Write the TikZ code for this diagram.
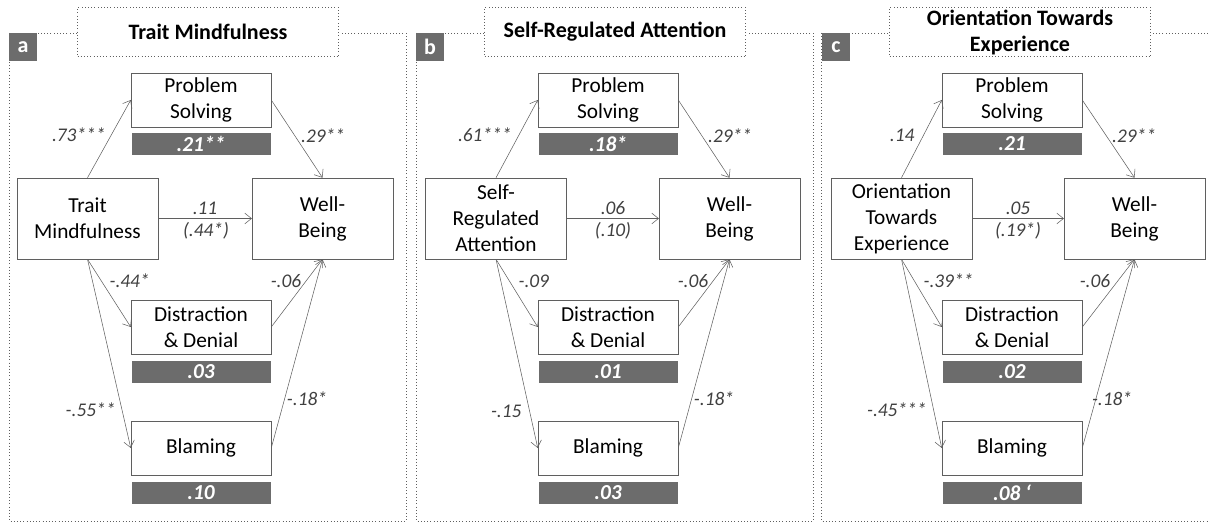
\documentclass[tikz,border=0pt]{standalone}
\usepackage{fontspec}
\setmainfont{Carlito}
\usepackage{xcolor}
\usetikzlibrary{arrows.meta}
\definecolor{linegrey}{RGB}{95,95,95}
\definecolor{bargrey}{RGB}{108,108,108}
\definecolor{coefgrey}{RGB}{64,64,64}
\newcommand{\boxfont}{\fontsize{16}{19.5}\selectfont}
\newcommand{\titlefont}{\fontsize{16.5}{19.5}\selectfont\bfseries}
\newcommand{\coeffont}{\fontsize{14.5}{17}\selectfont\itshape}
\newcommand{\barfont}{\fontsize{16}{17}\selectfont\bfseries\itshape}
\tikzset{
    box/.style={draw=linegrey, fill=white, align=center, font=\boxfont, inner sep=0pt, minimum width=105pt, minimum height=40.5pt},
    bigbox/.style={box, minimum width=105.5pt, minimum height=60.75pt},
    bar/.style={fill=bargrey, text=white, font=\barfont, inner sep=0pt, minimum width=104.25pt, minimum height=16.5pt},
    coef/.style={text=coefgrey, font=\coeffont, inner sep=1pt},
    titlebox/.style={draw=linegrey, dotted, fill=white, align=center, font=\titlefont, inner sep=0pt, minimum width=195.75pt, minimum height=36.75pt},
    tab/.style={fill=bargrey, text=white, font=\titlefont, inner sep=0pt, minimum width=21pt, minimum height=21pt},
    frame/.style={draw=linegrey, dotted},
    path/.style={draw=linegrey, -{Straight Barb[length=5pt,width=8pt]}}
}

\begin{document}
\begin{tikzpicture}[x=0.75pt, y=-0.75pt]
    \useasboundingbox (0,0) rectangle (1210,524);
    \clip (0,0) rectangle (1210,524);

    % panel a
    \begin{scope}[shift={(0,0)}]
        \draw[frame] (9,33) rectangle (406,521);
        \node[titlebox] (aT) at (208,32) {Trait Mindfulness};
        \node[tab] (aL) at (23,47) {a};
        \node[box] (aPS) at (201,100) {Problem\\Solving};
        \node[bar] (aR1) at (201,144) {.21**};
        \node[bigbox] (aX) at (87.5,218.5) {Trait\\Mindfulness};
        \node[bigbox] (aWB) at (322.5,218.5) {Well-\\Being};
        \node[box] (aDD) at (201,327) {Distraction\\\& Denial};
        \node[bar] (aR2) at (201,371.5) {.03};
        \node[box] (aBL) at (201,448) {Blaming};
        \node[bar] (aR3) at (201,492.5) {.10};

        \draw[path] (aX.north) -- (aPS.west);
        \draw[path] (aPS.east) -- (aWB.north);
        \draw[path] (aX.east) -- (aWB.west);
        \draw[path] (aX.south) -- (aDD.west);
        \draw[path] (aDD.east) -- (aWB.south);
        \draw[path] (aX.south) -- (aBL.west);
        \draw[path] (aBL.east) -- (aWB.south);

        \node[coef, anchor=east] (aC1) at (107,135) {.73***};
        \node[coef] (aC2) at (323,136) {.29**};
        \node[coef] (aC3) at (205,208) {.11};
        \node[coef] (aC4) at (206,231) {(.44*)};
        \node[coef, anchor=west] (aC5) at (108,281) {-.44*};
        \node[coef] (aC6) at (286,281) {-.06};
        \node[coef, anchor=east] (aC7) at (117,410) {-.55**};
        \node[coef] (aC8) at (307,399) {-.18*};
    \end{scope}

    % panel b
    \begin{scope}[shift={(407,0)}]
        \draw[frame] (9,33) rectangle (406,521);
        \node[titlebox] (bT) at (208,32) {Self-Regulated Attention};
        \node[tab] (bL) at (23,47) {b};
        \node[box] (bPS) at (201,100) {Problem\\Solving};
        \node[bar] (bR1) at (201,144) {.18*};
        \node[bigbox] (bX) at (89,218.5) {Self-\\Regulated\\Attention};
        \node[bigbox] (bWB) at (322.5,218.5) {Well-\\Being};
        \node[box] (bDD) at (201,327) {Distraction\\\& Denial};
        \node[bar] (bR2) at (201,371.5) {.01};
        \node[box] (bBL) at (201,448) {Blaming};
        \node[bar] (bR3) at (201,492.5) {.03};

        \draw[path] (bX.north) -- (bPS.west);
        \draw[path] (bPS.east) -- (bWB.north);
        \draw[path] (bX.east) -- (bWB.west);
        \draw[path] (bX.south) -- (bDD.west);
        \draw[path] (bDD.east) -- (bWB.south);
        \draw[path] (bX.south) -- (bBL.west);
        \draw[path] (bBL.east) -- (bWB.south);

        \node[coef, anchor=east] (bC1) at (106,135) {.61***};
        \node[coef] (bC2) at (323,136) {.29**};
        \node[coef] (bC3) at (206,208) {.06};
        \node[coef] (bC4) at (206,231) {(.10)};
        \node[coef, anchor=west] (bC5) at (110,281) {-.09};
        \node[coef] (bC6) at (286,281) {-.06};
        \node[coef, anchor=east] (bC7) at (116,411) {-.15};
        \node[coef] (bC8) at (307,399) {-.18*};
    \end{scope}

    % panel c
    \begin{scope}[shift={(812,0)}]
        \draw[frame] (9,33) rectangle (420,521);
        \node[titlebox] (cT) at (208,32) {Orientation Towards\\Experience};
        \node[tab] (cL) at (24,47) {c};
        \node[box] (cPS) at (200,100) {Problem\\Solving};
        \node[bar] (cR1) at (200,144) {.21};
        \node[bigbox] (cX) at (89.5,218.5) {Orientation\\Towards\\Experience};
        \node[bigbox] (cWB) at (322.5,218.5) {Well-\\Being};
        \node[box] (cDD) at (200,327) {Distraction\\\& Denial};
        \node[bar] (cR2) at (200,371.5) {.02};
        \node[box] (cBL) at (200,448) {Blaming};
        \node[bar] (cR3) at (200,492.5) {.08 ‘};

        \draw[path] (cX.north) -- (cPS.west);
        \draw[path] (cPS.east) -- (cWB.north);
        \draw[path] (cX.east) -- (cWB.west);
        \draw[path] (cX.south) -- (cDD.west);
        \draw[path] (cDD.east) -- (cWB.south);
        \draw[path] (cX.south) -- (cBL.west);
        \draw[path] (cBL.east) -- (cWB.south);

        \node[coef, anchor=east] (cC1) at (104,135) {.14};
        \node[coef] (cC2) at (322,136) {.29**};
        \node[coef] (cC3) at (206,208) {.05};
        \node[coef] (cC4) at (206,231) {(.19*)};
        \node[coef, anchor=west] (cC5) at (110,281) {-.39**};
        \node[coef] (cC6) at (283,281) {-.06};
        \node[coef, anchor=east] (cC7) at (116,410) {-.45***};
        \node[coef] (cC8) at (300,399) {-.18*};
    \end{scope}
\end{tikzpicture}
\end{document}
